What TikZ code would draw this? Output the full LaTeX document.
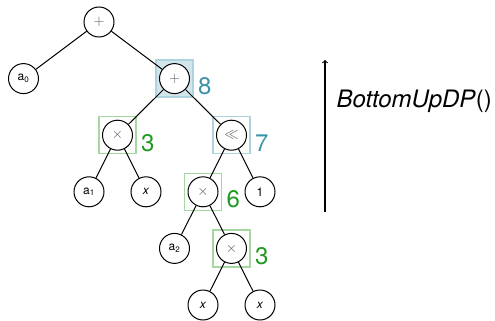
\documentclass[tikz,border=0pt]{standalone}
\usepackage{fontspec}
\setmainfont{TeX Gyre Heros}
\usepackage{amsmath}
\usepackage{amssymb}
\usepackage{tikz}
\usepackage{xcolor}
\usetikzlibrary{backgrounds}

\definecolor{dpblue}{HTML}{3C93A8}
\definecolor{dpgreen}{HTML}{1E9A1E}
\definecolor{boxblue}{HTML}{AFD3DE}
\definecolor{fillblue}{HTML}{D2E5EB}
\definecolor{boxgreen}{HTML}{A6D7A0}
\definecolor{opgrey}{HTML}{5A5A5A}

\tikzset{
  every node/.style={circle, draw, fill=white, minimum size=30pt, inner sep=0pt, font=\fontsize{12}{14}\selectfont},
  opnode/.style={text=opgrey, font=\fontsize{14}{16}\selectfont},
  dpbox/.style={rectangle, draw, line width=1.4pt, minimum size=37pt},
  dpval/.style={draw=none, fill=none, rectangle, minimum size=0pt, inner sep=0pt, anchor=base west, font=\fontsize{24}{28}\selectfont}
}

\begin{document}
\begin{tikzpicture}[x=1pt, y=1pt, line width=1pt,
                    level distance=56.6pt,
                    level 1/.style={sibling distance=151pt},
                    level 2/.style={sibling distance=114pt},
                    level 3/.style={sibling distance=57pt}]
                    \useasboundingbox (0,0) rectangle (495,-321);
                    \node[opnode] (root) at (99,-22) {$+$}
                        child {node (a0) {a\textsubscript{0}}}
                        child {node[opnode] (add) {$+$}
                            child {node[opnode] (mulA) {$\times$}
                                child {node (a1) {a\textsubscript{1}}}
                                child {node (xA) {\textit{x}}}
                            }
                            child {node[opnode] (shl) {$\ll$}
                                child {node[opnode] (mulB) {$\times$}
                                    child {node (a2) {a\textsubscript{2}}}
                                    child {node[opnode] (mulC) {$\times$}
                                        child {node (xB) {\textit{x}}}
                                        child {node (xC) {\textit{x}}}
                                    }
                                }
                                child {node (one) {1}}
                            }
                        };
                    % dp boxes
                    \begin{scope}[on background layer]
                        \node[dpbox, draw=boxblue, fill=fillblue] (addbox) at (add) {};
                        \node[dpbox, draw=boxgreen, fill=none] (mulAbox) at (mulA) {};
                        \node[dpbox, draw=boxblue, fill=none] (shlbox) at (shl) {};
                        \node[dpbox, draw=boxgreen, fill=none] (mulBbox) at (mulB) {};
                        \node[dpbox, draw=boxgreen, fill=none] (mulCbox) at (mulC) {};
                    \end{scope}
                    \node[dpval, text=dpblue] (addval) at ([xshift=4pt,yshift=-16pt]addbox.east) {8};
                    \node[dpval, text=dpgreen] (mulAval) at ([xshift=4pt,yshift=-16pt]mulAbox.east) {3};
                    \node[dpval, text=dpblue] (shlval) at ([xshift=4pt,yshift=-16pt]shlbox.east) {7};
                    \node[dpval, text=dpgreen] (mulBval) at ([xshift=4pt,yshift=-16pt]mulBbox.east) {6};
                    \node[dpval, text=dpgreen] (mulCval) at ([xshift=4pt,yshift=-16pt]mulCbox.east) {3};
                    % direction
                    \coordinate (arrbot) at (325,-212);
                    \coordinate (arrtop) at (325,-60);
                    \draw[->, line width=1.1pt] (arrbot) -- (arrtop);
                    \node[draw=none, fill=none, rectangle, anchor=base west, inner sep=0pt, font=\fontsize{24}{28}\selectfont] (algo) at (336,-107) {\textit{BottomUpDP}()};
                \end{tikzpicture}
\end{document}
